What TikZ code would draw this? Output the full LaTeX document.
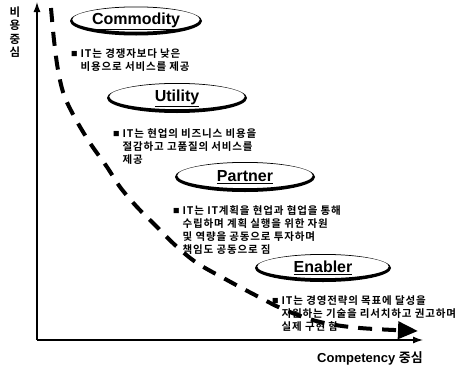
\documentclass[tikz,border=0pt]{standalone}
\usepackage{fontspec}
\setmainfont{Liberation Sans}
\newfontfamily\kr{Noto Sans CJK KR}[BoldFont={Noto Sans CJK KR Bold}]
\newfontfamily\krwide{Noto Sans CJK KR}[BoldFont={Noto Sans CJK KR Bold}, LetterSpace=8]
\usetikzlibrary{arrows.meta}

% bullet and hanging indent for the note blocks
\newcommand{\blt}{\makebox[9.5pt][l]{\raisebox{0.6pt}{\fontsize{6.5}{6.5}\selectfont ■}}}
\newcommand{\ind}{\hspace*{9.5pt}}
% hand-drawn looking ellipse: thin on top, heavy at the bottom
\newcommand{\swoosh}[5]{%
  \fill[even odd rule] (#1) ellipse [x radius=#2, y radius=#3]
    ([yshift=1.5pt]#1) ellipse [x radius=#4, y radius=#5];}

\tikzset{
  axis/.style={line width=1.3pt, -{Latex[length=10pt,width=7pt]}},
  trend/.style={line width=4pt, dash pattern=on 14pt off 10pt,
    -{Triangle[length=20pt,width=17pt]}},
  title/.style={font=\fontsize{16}{16}\selectfont\bfseries, inner sep=0pt},
  note/.style={font=\krwide\bfseries\fontsize{10.5}{13}\selectfont, align=left,
    anchor=north west, inner sep=0pt},
  ylab/.style={font=\kr\bfseries\fontsize{11.5}{13.3}\selectfont, align=center, inner sep=0pt},
  xlab/.style={font=\fontsize{13}{13}\selectfont\bfseries, inner sep=0pt},
}

\begin{document}
\begin{tikzpicture}[x=1pt, y=-1pt]
\useasboundingbox (0,0) rectangle (466,367);

% axes
\coordinate (origin) at (37,340);
\coordinate (ytop) at (37,2);
\coordinate (xend) at (423,340);
\draw[axis] (origin) -- (ytop);
\draw[axis] (origin) -- (xend);
\node[ylab] (ylabel) at (15,32) {비\\용\\중\\심};
\node[xlab] (xlabel) at (370,358) {Competency {\kr 중심}};

% dashed trend curve
\draw[trend] plot[smooth, tension=0.55] coordinates {
  (51,8) (54,40) (58,70) (64,95) (75,118) (90,143) (107,167) (120,187)
  (137,207) (155,225) (175,245) (197,263) (227,280) (255,295) (285,310)
  (320,322) (360,328) (418,331)};

% Commodity
\node[title] (commodity) at (136,21) {\underline{Commodity}};
\swoosh{commodity}{66}{14.5}{63.8}{12.2}
\node[note] (commoditynote) at (71,48.5)
  {\blt IT는 경쟁자보다 낮은\\ \ind 비용으로 서비스를 제공};

% Utility
\node[title] (utility) at (177,98) {\underline{Utility}};
\swoosh{utility}{70}{15}{67.8}{12.7}
\node[note] (utilitynote) at (113,128.5)
  {\blt IT는 현업의 비즈니스 비용을\\ \ind 절감하고 고품질의 서비스를\\ \ind 제공};

% Partner
\node[title] (partner) at (245,177) {\underline{Partner}};
\swoosh{partner}{70}{15}{67.8}{12.7}
\node[note] (partnernote) at (173,205.5)
  {\blt IT는 IT계획을 현업과 협업을 통해\\ \ind 수립하며 계획 실행을 위한 자원\\
   \ind 및 역량을 공동으로 투자하며\\ \ind 책임도 공동으로 짐};

% Enabler
\node[title] (enabler) at (323,268) {\underline{Enabler}};
\swoosh{enabler}{68}{14}{65.8}{11.7}
\node[note] (enablernote) at (272,295.5)
  {\blt IT는 경영전략의 목표에 달성을\\ \ind 지원하는 기술을 리서치하고 권고하며\\ \ind 실제 구현 함};
\end{tikzpicture}
\end{document}
